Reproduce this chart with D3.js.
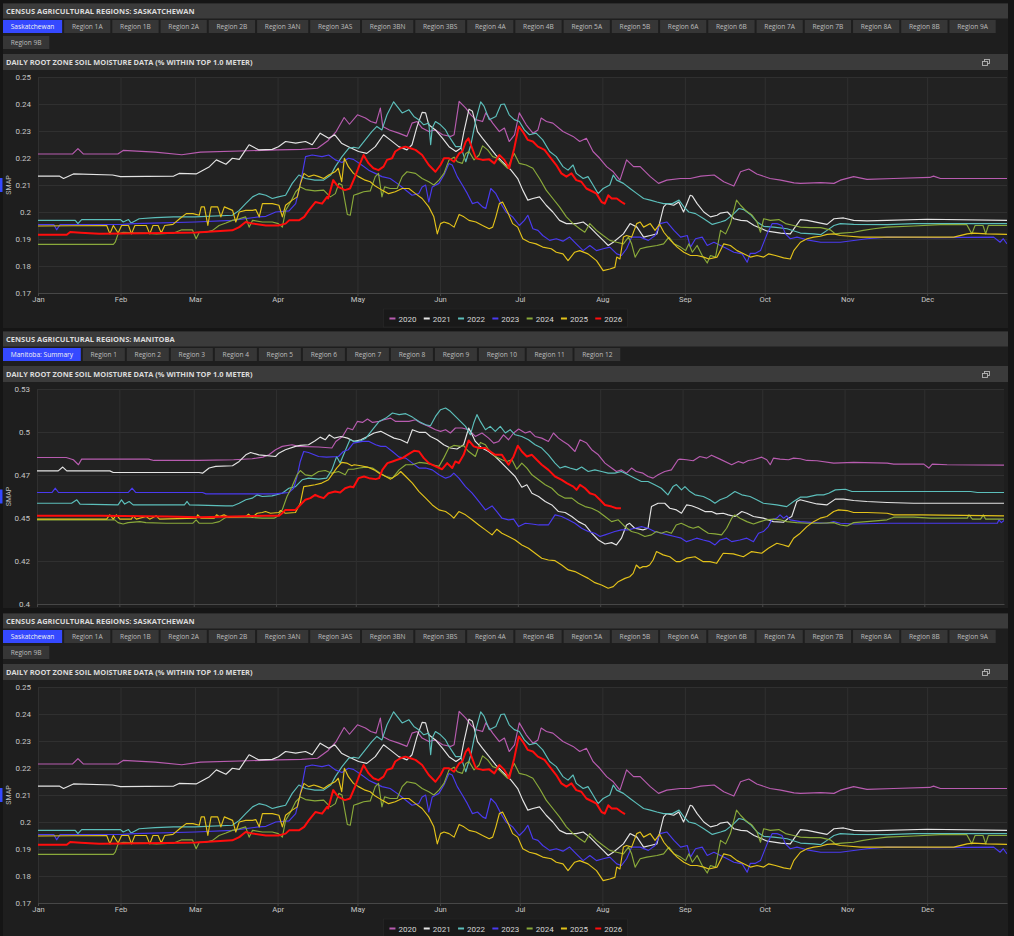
<!DOCTYPE html>
<html>
<head>
<meta charset="utf-8">
<script src="https://cdn.jsdelivr.net/npm/d3@7"></script>
<style>
  body { margin: 0; background: #151515; }
  svg { display: block; }
</style>
</head>
<body>
<svg id="page" width="1014" height="936"></svg>
<script>
// ---- data ----
const years = ["2020", "2021", "2022", "2023", "2024", "2025", "2026"];
const yearColors = ["#b85cb0", "#e4e4e4", "#5cbfbb", "#4a3af0", "#8aaa3a", "#e3c21a", "#ff0d0d"];

const skTabs = ["Saskatchewan", "Region 1A", "Region 1B", "Region 2A", "Region 2B", "Region 3AN", "Region 3AS",
  "Region 3BN", "Region 3BS", "Region 4A", "Region 4B", "Region 5A", "Region 5B", "Region 6A", "Region 6B",
  "Region 7A", "Region 7B", "Region 8A", "Region 8B", "Region 9A", "Region 9B"];
const mbTabs = ["Manitoba: Summary", "Region 1", "Region 2", "Region 3", "Region 4", "Region 5", "Region 6",
  "Region 7", "Region 8", "Region 9", "Region 10", "Region 11", "Region 12"];

const skTicks = [0.17, 0.18, 0.19, 0.2, 0.21, 0.22, 0.23, 0.24, 0.25];
const skTickLabels = ["0.17", "0.18", "0.19", "0.2", "0.21", "0.22", "0.23", "0.24", "0.25"];
const mbTicks = [0.4, 0.426, 0.452, 0.478, 0.504, 0.53];
const mbTickLabels = ["0.4", "0.42", "0.45", "0.47", "0.5", "0.53"];

// Saskatchewan, [day of year, SMAP]
const sk2020 = [[1,0.2215],[14,0.2215],[16,0.2235],[18,0.2215],[31,0.2215],[33,0.2228],[45,0.2222],[55,0.2212],[62,0.2222],[80,0.2227],[91,0.2230],[100,0.2232],[106,0.2236],[110,0.2265],[113,0.2298],[116,0.2350],[118,0.2325],[121,0.2360],[124,0.2348],[126,0.2335],[128,0.2329],[129.6,0.2385],[130.5,0.2317],[133,0.2304],[136.5,0.2292],[139.6,0.2280],[141.5,0.2329],[143.4,0.2335],[145.3,0.2311],[147.8,0.2298],[150.3,0.2304],[153,0.2286],[156,0.2280],[157.3,0.2286],[159.2,0.2410],[161.7,0.2385],[163.6,0.2360],[165.5,0.2342],[168,0.2335],[169.2,0.2367],[171.8,0.2329],[174.3,0.2298],[176.2,0.2311],[178,0.2261],[180,0.2286],[181.8,0.2367],[184.4,0.2323],[186.9,0.2292],[188.8,0.2304],[190,0.2348],[192,0.2335],[194.4,0.2329],[198.2,0.2298],[202,0.2280],[204.5,0.2261],[207,0.2273],[209.5,0.2224],[212,0.2199],[214.6,0.2168],[217.1,0.2149],[219.6,0.2118],[222.1,0.2193],[224.7,0.2168],[227.2,0.2168],[231,0.2131],[234.1,0.2106],[237.2,0.2118],[242.3,0.2124],[246,0.2124],[250,0.2133],[255,0.2137],[258.6,0.2112],[262.4,0.2096],[264.9,0.2149],[268,0.2159],[271,0.2141],[276,0.2124],[280,0.2118],[285,0.2108],[287.4,0.2106],[295,0.2109],[300,0.2106],[302.4,0.2118],[307.4,0.2131],[312.4,0.2121],[322.4,0.2124],[336,0.2128],[337.4,0.2133],[340,0.2124],[365,0.2124]];
const sk2021 = [[1,0.2133],[9,0.2133],[10.6,0.2124],[14.3,0.2141],[29,0.2137],[32,0.2131],[52,0.2133],[54,0.2143],[60.4,0.2141],[63,0.2155],[65.4,0.2168],[68,0.2193],[71.6,0.2177],[74,0.2199],[76.6,0.2195],[79,0.2230],[80.3,0.2249],[84,0.2230],[89,0.2232],[91.3,0.2242],[94,0.2261],[97.8,0.2255],[101.5,0.2261],[104,0.2249],[107,0.2292],[110.2,0.2273],[112.5,0.2286],[115,0.2255],[117.6,0.2242],[121.4,0.2224],[124.5,0.2217],[127.7,0.2242],[130.8,0.2286],[133.3,0.2267],[136.5,0.2242],[139.6,0.2230],[141.5,0.2249],[143.4,0.2317],[145.3,0.2369],[146.6,0.2367],[147.8,0.2323],[150.3,0.2304],[153,0.2273],[155.4,0.2242],[158,0.2224],[159.8,0.2236],[161,0.2298],[162.9,0.2381],[164.2,0.2373],[166.1,0.2298],[168,0.2273],[170.5,0.2242],[173,0.2211],[175.5,0.2186],[178.7,0.2155],[181.2,0.2124],[183.1,0.2081],[185,0.2044],[186.9,0.2050],[189.4,0.2056],[191.9,0.2025],[194.4,0.2000],[196.9,0.1969],[199.5,0.1957],[203.2,0.1957],[205.8,0.1963],[208.3,0.1944],[210.8,0.1919],[213.3,0.1895],[215.2,0.1876],[217.1,0.1888],[220.9,0.1919],[223.4,0.1957],[226,0.1944],[228.5,0.1907],[231,0.1913],[233.5,0.1919],[236,0.2019],[237.2,0.2031],[239.8,0.2025],[241.7,0.2037],[243.5,0.2000],[246,0.2062],[246.8,0.2059],[248.6,0.2031],[251.1,0.2000],[253.6,0.1982],[256.1,0.1988],[257.4,0.1996],[260,0.2000],[262.4,0.1975],[265,0.1969],[267.4,0.1967],[270,0.1950],[275,0.1929],[280,0.1922],[283.6,0.1919],[287.4,0.1972],[290,0.1969],[295,0.1959],[297.4,0.1954],[300,0.1975],[303.6,0.1978],[307.4,0.1969],[312.4,0.1967],[320,0.1969],[335,0.1973],[365,0.1969]];
const sk2022 = [[1,0.1969],[15,0.1969],[16,0.1957],[17.4,0.1972],[32,0.1972],[33,0.1963],[35,0.1972],[36,0.1959],[39,0.1975],[45,0.1979],[52,0.1982],[60,0.1982],[74,0.1988],[76.6,0.2006],[79,0.2031],[81.6,0.2056],[84,0.2068],[86.6,0.2062],[89,0.2050],[91.3,0.2056],[94,0.2062],[96.5,0.2106],[99,0.2137],[101.5,0.2124],[105,0.2118],[108.3,0.2118],[111,0.2137],[112.7,0.2168],[115.2,0.2205],[117.7,0.2236],[119.6,0.2240],[121.4,0.2236],[126.4,0.2298],[128.3,0.2317],[130.2,0.2304],[132.1,0.2360],[134.6,0.2408],[135.9,0.2391],[137.8,0.2367],[140.3,0.2379],[142.2,0.2354],[144,0.2342],[145.9,0.2323],[147.8,0.2329],[148.5,0.2249],[149.1,0.2311],[150.3,0.2335],[152.2,0.2323],[154.1,0.2304],[155.4,0.2280],[157.9,0.2242],[159.8,0.2242],[161.7,0.2186],[163.6,0.2249],[165.5,0.2342],[167.3,0.2408],[168.6,0.2391],[170.5,0.2342],[173,0.2354],[174.9,0.2398],[176.2,0.2400],[178,0.2360],[179.9,0.2342],[181.8,0.2335],[183.7,0.2304],[185.6,0.2286],[188.1,0.2292],[190.6,0.2267],[193.2,0.2224],[195.7,0.2205],[198.2,0.2168],[200.1,0.2155],[202,0.2174],[203.2,0.2143],[205.8,0.2124],[207.6,0.2131],[209.5,0.2100],[211.4,0.2068],[213.3,0.2087],[215.8,0.2100],[217.1,0.2137],[218.4,0.2118],[220.9,0.2106],[223.4,0.2087],[226,0.2068],[228.5,0.2050],[231,0.2044],[233.5,0.2037],[236,0.2031],[239.3,0.2031],[241.8,0.2044],[243.6,0.2019],[245.5,0.2000],[248,0.1994],[251.1,0.1975],[254.3,0.1954],[257.4,0.1963],[259.3,0.1969],[262.4,0.1994],[264.3,0.2013],[266.1,0.2009],[268.6,0.1991],[271.1,0.1963],[273.6,0.1947],[277.4,0.1944],[282.4,0.1938],[287.4,0.1922],[292.4,0.1919],[295,0.1916],[297.4,0.1932],[300,0.1950],[302.4,0.1957],[307.4,0.1954],[320,0.1953],[330,0.1957],[365,0.1957]];
const sk2023 = [[1,0.1953],[7,0.1953],[8,0.1934],[9.3,0.1953],[33,0.1954],[37,0.1957],[60,0.1963],[74,0.1969],[84,0.1982],[86.6,0.1984],[90.3,0.2000],[95.3,0.2004],[97.8,0.2031],[99.6,0.2106],[101.5,0.2205],[104,0.2211],[107.7,0.2205],[110.2,0.2211],[112.7,0.2193],[115.2,0.2183],[117.6,0.2199],[119.5,0.2195],[122.6,0.2174],[125.2,0.2155],[127.7,0.2143],[130.2,0.2131],[133.3,0.2124],[135.9,0.2106],[138.4,0.2087],[141.5,0.2062],[144,0.2068],[145.3,0.2093],[146.6,0.2100],[147.8,0.2037],[149.1,0.2093],[151.6,0.2106],[153.5,0.2137],[155.4,0.2180],[156.6,0.2174],[158.5,0.2131],[160.4,0.2100],[162.3,0.2068],[164.2,0.2031],[166.1,0.2037],[168,0.2019],[169.2,0.2013],[171.1,0.2087],[173,0.2068],[174.9,0.2031],[176.8,0.2000],[179.3,0.1982],[181.8,0.1950],[183.7,0.1969],[185,0.1988],[186.9,0.1938],[188.8,0.1932],[190.6,0.1913],[193.2,0.1895],[195.7,0.1901],[198.2,0.1892],[200.7,0.1907],[203.2,0.1882],[205.8,0.1857],[208.3,0.1876],[210.8,0.1857],[213.3,0.1864],[215.8,0.1870],[218.4,0.1845],[220.2,0.1839],[222.1,0.1864],[224,0.1907],[227.2,0.1907],[230.3,0.1895],[232.8,0.1913],[234.7,0.1957],[237.2,0.1963],[239.9,0.1932],[242.4,0.1907],[244.9,0.1913],[246.1,0.1870],[248,0.1901],[250.5,0.1907],[252.4,0.1876],[254.9,0.1888],[257.4,0.1876],[259.9,0.1864],[262.4,0.1851],[265.5,0.1845],[267.4,0.1814],[268.6,0.1847],[270.5,0.1847],[272.4,0.1857],[274.9,0.1919],[276.8,0.1957],[278.6,0.1957],[280.5,0.1950],[281.8,0.1919],[283.6,0.1901],[286.1,0.1907],[289.9,0.1897],[295,0.1888],[302.4,0.1888],[312.4,0.1901],[320,0.1907],[338.6,0.1905],[360,0.1907],[362.4,0.1888],[363.6,0.1901],[365,0.1882]];
const sk2024 = [[1,0.1880],[29.3,0.1880],[30,0.1888],[31.1,0.1919],[33,0.1925],[37,0.1923],[41,0.1922],[45.5,0.1919],[52,0.1922],[55,0.1934],[59,0.1934],[60.4,0.1901],[61.6,0.1925],[64,0.1925],[66.6,0.1932],[69,0.1950],[71.6,0.1959],[74,0.1969],[76.6,0.1975],[79,0.1982],[80.3,0.1944],[81.6,0.1969],[85.3,0.1963],[89,0.1963],[91.3,0.1957],[92.8,0.1944],[94,0.2006],[95.9,0.2037],[97.8,0.2075],[99.6,0.2093],[101.5,0.2083],[105,0.2078],[108.3,0.2081],[110.8,0.2056],[112.7,0.2068],[114,0.2106],[115.2,0.2100],[117.2,0.1991],[118.3,0.1988],[119.6,0.2062],[121.4,0.2068],[123.3,0.2075],[125.8,0.2078],[127.7,0.2131],[128.9,0.2143],[130.2,0.2056],[131.2,0.2093],[133.3,0.2087],[135.9,0.2087],[137.8,0.2131],[139.6,0.2149],[142.8,0.2143],[145.3,0.2124],[147.8,0.2112],[149.7,0.2100],[151.6,0.2118],[153.5,0.2143],[155.4,0.2193],[157.3,0.2203],[158.5,0.2186],[160.4,0.2180],[161.7,0.2217],[162.9,0.2224],[164.8,0.2193],[166.7,0.2211],[168,0.2245],[169.9,0.2230],[171.8,0.2205],[173.6,0.2199],[175.5,0.2180],[177.4,0.2162],[178.7,0.2193],[179.9,0.2217],[181.8,0.2180],[184.4,0.2174],[186.9,0.2162],[189.4,0.2124],[191.9,0.2081],[194.4,0.2050],[196.9,0.2019],[199.5,0.1982],[202,0.1957],[204.5,0.1938],[206.4,0.1925],[208.3,0.1957],[210.8,0.1932],[213.3,0.1913],[215.8,0.1895],[218.4,0.1888],[220.9,0.1882],[222.8,0.1907],[224,0.1882],[225.3,0.1833],[227.2,0.1864],[229.7,0.1870],[233.5,0.1876],[236,0.1882],[238,0.1907],[239.9,0.1882],[242.4,0.1870],[244.3,0.1857],[245.5,0.1882],[246.8,0.1851],[248.6,0.1876],[250.5,0.1839],[252.4,0.1811],[253.6,0.1839],[255.5,0.1833],[257.4,0.1932],[259.3,0.1919],[261.1,0.1957],[263.4,0.2044],[264.9,0.2025],[266.8,0.2006],[269.3,0.1988],[271.1,0.1963],[272.4,0.1925],[273.6,0.1975],[276.1,0.1969],[279.3,0.1972],[281.8,0.1957],[284.9,0.1950],[287.4,0.1944],[291.1,0.1942],[295,0.1942],[298.6,0.1934],[300.5,0.1919],[303,0.1922],[307.4,0.1925],[311,0.1932],[315,0.1938],[320,0.1944],[330,0.1948],[340,0.1953],[349.9,0.1953],[351.8,0.1919],[353,0.1950],[356,0.1950],[357,0.1919],[358,0.1950],[365,0.1950]];
const sk2025 = [[1,0.1948],[26.8,0.1950],[28,0.1919],[29.3,0.1950],[31.1,0.1922],[32.4,0.1950],[35,0.1950],[36.1,0.1919],[37.4,0.1950],[41.7,0.1950],[43,0.1919],[44.2,0.1950],[46.1,0.1950],[47.3,0.1922],[48.6,0.1950],[51.7,0.1954],[54.2,0.1975],[56.7,0.1994],[59.2,0.1994],[61.6,0.1988],[62.3,0.2019],[63.5,0.2019],[64.8,0.1950],[66,0.2019],[68.5,0.2019],[69.7,0.1982],[71,0.2019],[74.1,0.2006],[75.3,0.1963],[76.6,0.2000],[79,0.2006],[81.6,0.2006],[82.8,0.2009],[84.1,0.1982],[85.3,0.2031],[89,0.2031],[91.5,0.2025],[92.8,0.1982],[94,0.2025],[96.5,0.2044],[98.4,0.2056],[99.6,0.2106],[100.9,0.2143],[102.7,0.2131],[104.6,0.2137],[106.5,0.2131],[108.3,0.2124],[110.2,0.2137],[112.6,0.2149],[113.8,0.2162],[115.1,0.2112],[116.1,0.2199],[117.6,0.2168],[119.5,0.2143],[121.4,0.2131],[123.9,0.2118],[125.8,0.2112],[127.7,0.2096],[130.2,0.2081],[132.7,0.2068],[135.2,0.2075],[137.8,0.2087],[140.3,0.2087],[142.8,0.2068],[145.3,0.2050],[147.8,0.2019],[149.7,0.1982],[151,0.1919],[152.2,0.1957],[153.5,0.1963],[155.4,0.1957],[157.3,0.1944],[159.2,0.1991],[161,0.1982],[162.9,0.1969],[165.5,0.1963],[168,0.1950],[170.5,0.1938],[171.8,0.1944],[173,0.1982],[174.3,0.2031],[175.5,0.2037],[177.4,0.2000],[179.3,0.1957],[181.2,0.1944],[183.1,0.1901],[185.6,0.1888],[188.1,0.1882],[190.6,0.1870],[193.8,0.1864],[195.7,0.1851],[198.2,0.1845],[200.1,0.1820],[202.6,0.1851],[204.5,0.1857],[207.6,0.1845],[210.8,0.1820],[213.3,0.1783],[215.8,0.1789],[217.7,0.1795],[218.4,0.1833],[219.6,0.1826],[220.9,0.1907],[222.1,0.1913],[224,0.1907],[225.9,0.1957],[227.2,0.1963],[228.5,0.1944],[231,0.1957],[232.8,0.1932],[234.5,0.1955],[236.1,0.1925],[238.6,0.1895],[241.1,0.1870],[243.6,0.1851],[246.1,0.1839],[248.6,0.1839],[251.1,0.1833],[253,0.1826],[256.1,0.1833],[258.6,0.1882],[261.1,0.1876],[263.6,0.1857],[266.1,0.1845],[268.6,0.1833],[271.1,0.1839],[273.6,0.1833],[275.5,0.1845],[278,0.1839],[281.1,0.1830],[283.6,0.1826],[284.9,0.1857],[287.4,0.1888],[289.9,0.1901],[292.4,0.1907],[294.9,0.1910],[297.4,0.1917],[299.9,0.1919],[302.4,0.1913],[304.9,0.1911],[310,0.1907],[320,0.1907],[345,0.1907],[350,0.1919],[352.4,0.1922],[357.4,0.1919],[365,0.1917]];
const sk2026 = [[1,0.1916],[11.8,0.1916],[13.1,0.1926],[17,0.1923],[24,0.1919],[49,0.1922],[60.4,0.1924],[74,0.1932],[76.6,0.1944],[79,0.1963],[81.6,0.1957],[86.6,0.1950],[91.3,0.1950],[94,0.1957],[95.3,0.1969],[99,0.1969],[101,0.1982],[102.7,0.2006],[105.2,0.2037],[107.7,0.2031],[109.6,0.2056],[110,0.2050],[111.9,0.2118],[113.8,0.2093],[116.3,0.2081],[118.2,0.2087],[120.1,0.2131],[122,0.2180],[123.3,0.2211],[125.2,0.2180],[127,0.2162],[128.9,0.2155],[130.8,0.2168],[132.1,0.2193],[134,0.2199],[135.2,0.2224],[137.1,0.2236],[139,0.2242],[140.9,0.2236],[142.8,0.2230],[145.3,0.2211],[147.8,0.2174],[150.3,0.2149],[152.2,0.2174],[153.5,0.2199],[155.4,0.2199],[157.3,0.2186],[159.2,0.2217],[160.4,0.2224],[161.7,0.2261],[162.7,0.2273],[163.6,0.2249],[165.5,0.2199],[168,0.2193],[170.5,0.2195],[172.4,0.2180],[174.3,0.2211],[176.2,0.2193],[178,0.2162],[179.9,0.2236],[181.6,0.2317],[183.1,0.2298],[185,0.2267],[186.9,0.2261],[188.8,0.2242],[191.3,0.2230],[193.2,0.2205],[195.7,0.2174],[197.6,0.2143],[199.5,0.2131],[201.4,0.2143],[203.2,0.2118],[205.1,0.2112],[207,0.2087],[209.5,0.2075],[210.8,0.2068],[212.7,0.2037],[213.9,0.2031],[215.2,0.2062],[216.5,0.2050],[218.4,0.2050],[220.2,0.2037],[221.5,0.2029]];

// Manitoba, [day of year, SMAP]
const mb2020 = [[1,0.4886],[12,0.4886],[14.7,0.4872],[16.6,0.4842],[17.8,0.4876],[43,0.4876],[45,0.4868],[62,0.4868],[75,0.4872],[82,0.4878],[86,0.4888],[88.3,0.4902],[90.8,0.4933],[93.3,0.4953],[97,0.4963],[99.5,0.4953],[107,0.4949],[112,0.4943],[113.5,0.4983],[116,0.5013],[117.9,0.5064],[119.8,0.5054],[121.6,0.5104],[123.5,0.5098],[125.4,0.5118],[127.3,0.5098],[129.8,0.5104],[131.6,0.5114],[134.1,0.5124],[136,0.5104],[141,0.5104],[143.5,0.5114],[145.4,0.5094],[148.5,0.5074],[151,0.5054],[152.9,0.5044],[154.8,0.5054],[156.6,0.5034],[158.5,0.5064],[161,0.5064],[163.5,0.5054],[166,0.5013],[168.5,0.5034],[171,0.5003],[172.9,0.4973],[174.8,0.4983],[176.6,0.5023],[178.5,0.4993],[180.4,0.5034],[182.3,0.5058],[184.8,0.5034],[186.6,0.5044],[188.5,0.5013],[191,0.5003],[193.5,0.4983],[195.4,0.5034],[197.3,0.5003],[199.1,0.4983],[201,0.4963],[203.5,0.4922],[205.4,0.4993],[207.9,0.4973],[209.8,0.4933],[212.3,0.4902],[214.8,0.4852],[217.3,0.4822],[219.1,0.4801],[221,0.4811],[222.9,0.4791],[224.8,0.4822],[226.6,0.4801],[229.1,0.4791],[231,0.4771],[232.9,0.4761],[234.8,0.4781],[237.3,0.4801],[239.8,0.4811],[242.3,0.4872],[243,0.4876],[245.5,0.4872],[248,0.4866],[250.5,0.4892],[253.1,0.4882],[254.9,0.4900],[258.1,0.4876],[262.5,0.4842],[265,0.4862],[266.9,0.4852],[268.8,0.4868],[270.7,0.4872],[273.8,0.4888],[275.7,0.4872],[277,0.4842],[278.2,0.4882],[280.7,0.4876],[283.9,0.4872],[285.8,0.4882],[288.3,0.4878],[290.8,0.4868],[294.6,0.4866],[300.9,0.4852],[308.4,0.4856],[321,0.4852],[323.5,0.4846],[334.8,0.4846],[336.7,0.4822],[338,0.4846],[343.6,0.4842],[365,0.4840]];
const mb2021 = [[1,0.4805],[9,0.4805],[10.7,0.4828],[12.2,0.4805],[28.4,0.4805],[29.7,0.4795],[62,0.4795],[63.3,0.4791],[65.8,0.4822],[68.3,0.4832],[74.6,0.4836],[77.1,0.4862],[79.6,0.4902],[81.4,0.4916],[84.5,0.4902],[90.8,0.4892],[92,0.4912],[94.5,0.4933],[98.3,0.4953],[100.1,0.4959],[103.2,0.4963],[105.7,0.4987],[107.6,0.5009],[109.5,0.4993],[111,0.5023],[112.9,0.5003],[115.4,0.5013],[117.9,0.5003],[120.4,0.4983],[122.9,0.4993],[125.4,0.5013],[127.9,0.5034],[130.4,0.5044],[132.9,0.5023],[135.4,0.5003],[137.9,0.4993],[140.4,0.4973],[142.3,0.5054],[144.8,0.5038],[147.3,0.5038],[149.1,0.5013],[151.6,0.4993],[154.1,0.4963],[156.6,0.4943],[159.1,0.4937],[161.6,0.4963],[163.5,0.5064],[164.8,0.5023],[166,0.4983],[168.5,0.4943],[171,0.4922],[173.5,0.4892],[176,0.4852],[178.5,0.4811],[181,0.4771],[183.5,0.4706],[185.4,0.4721],[187.3,0.4670],[189.8,0.4650],[192.3,0.4620],[194.8,0.4599],[197.3,0.4559],[199.8,0.4553],[202.3,0.4529],[204.8,0.4498],[207.3,0.4478],[209.8,0.4428],[212.3,0.4387],[214.8,0.4363],[217.3,0.4371],[219.1,0.4357],[221,0.4398],[222.9,0.4478],[224.1,0.4488],[226,0.4458],[229.1,0.4448],[231,0.4458],[232.3,0.4589],[234.8,0.4609],[237.3,0.4609],[239.2,0.4579],[241.7,0.4569],[243.6,0.4549],[245.5,0.4599],[247.4,0.4594],[249.9,0.4579],[252.4,0.4559],[254.9,0.4559],[256.8,0.4545],[259.3,0.4549],[261.2,0.4539],[263.7,0.4529],[266.3,0.4559],[268.2,0.4549],[270.7,0.4529],[274.4,0.4519],[278.2,0.4498],[282,0.4494],[283.9,0.4519],[285.1,0.4529],[287,0.4620],[288.3,0.4630],[290.8,0.4620],[294.6,0.4605],[298.3,0.4599],[301.5,0.4634],[304.6,0.4634],[308.4,0.4626],[313.4,0.4620],[321,0.4614],[331,0.4609],[365,0.4609]];
const mb2022 = [[1,0.4609],[14,0.4609],[16,0.4630],[17.2,0.4604],[31.5,0.4599],[32.8,0.4630],[34,0.4604],[35.7,0.4620],[37.2,0.4599],[56.5,0.4599],[57.5,0.4620],[58.4,0.4599],[72,0.4593],[74.6,0.4593],[77.1,0.4609],[79.6,0.4630],[82,0.4640],[83.9,0.4660],[85.8,0.4650],[89.5,0.4654],[93.3,0.4670],[95.8,0.4700],[98.3,0.4710],[100.8,0.4751],[103.2,0.4761],[107,0.4755],[110,0.4761],[112,0.4811],[113.8,0.4892],[115.1,0.4852],[116.9,0.4922],[118.8,0.4993],[120.4,0.4983],[122.3,0.4983],[124.8,0.5003],[127.3,0.5054],[129.8,0.5104],[132.3,0.5124],[134.8,0.5155],[137.3,0.5145],[139.8,0.5151],[142.3,0.5130],[144.8,0.5104],[147.3,0.5084],[149.1,0.5078],[151,0.5134],[152.9,0.5175],[154.8,0.5185],[156.6,0.5165],[158.5,0.5134],[160.4,0.5104],[162.3,0.5074],[164.1,0.5023],[165.4,0.5094],[166.6,0.5145],[167.9,0.5104],[169.8,0.5054],[171.6,0.5074],[173.5,0.5044],[175.4,0.5074],[177.3,0.5034],[179.1,0.5054],[181,0.5023],[183.5,0.5013],[186,0.4993],[188.5,0.4963],[191,0.4943],[193.5,0.4902],[196,0.4852],[197.9,0.4822],[199.8,0.4832],[201.6,0.4822],[204.1,0.4811],[206,0.4828],[208.5,0.4801],[211,0.4811],[213.5,0.4801],[216,0.4791],[218.5,0.4791],[221,0.4801],[223.5,0.4781],[226,0.4761],[228.5,0.4741],[231,0.4741],[233.5,0.4721],[236,0.4700],[238.5,0.4660],[240.4,0.4710],[241.7,0.4722],[243.6,0.4690],[244.9,0.4710],[246.8,0.4680],[248.7,0.4660],[251.8,0.4650],[254.3,0.4630],[256.2,0.4609],[258.1,0.4630],[260.6,0.4646],[263.7,0.4680],[266.3,0.4660],[269.4,0.4650],[271.9,0.4630],[274.4,0.4609],[279.5,0.4599],[283.2,0.4589],[285.8,0.4620],[288.3,0.4646],[290.8,0.4646],[294.6,0.4660],[297.1,0.4660],[299,0.4670],[301.5,0.4690],[305.3,0.4694],[307.8,0.4680],[314.7,0.4680],[333.6,0.4680],[352.4,0.4680],[355,0.4674],[365,0.4674]];
const mb2023 = [[1,0.4674],[6.6,0.4674],[7.9,0.4700],[9.1,0.4674],[35.3,0.4674],[36.8,0.4700],[38.2,0.4674],[63.3,0.4674],[64.6,0.4666],[90.8,0.4666],[93.3,0.4670],[95.8,0.4674],[97.6,0.4700],[98.9,0.4771],[100.1,0.4862],[101.4,0.4922],[103.2,0.4916],[107,0.4892],[110,0.4888],[114.5,0.4892],[116.3,0.4922],[118.2,0.4933],[120.1,0.4973],[121.6,0.4977],[123.5,0.4983],[126,0.4983],[128.5,0.4963],[130.4,0.4953],[132.3,0.4953],[134.8,0.4922],[137.3,0.4888],[139.8,0.4882],[142.3,0.4852],[144.8,0.4822],[147.3,0.4822],[149.8,0.4811],[152.3,0.4781],[154.8,0.4761],[156.6,0.4771],[157.9,0.4791],[159.8,0.4761],[162.3,0.4710],[164.8,0.4670],[167.3,0.4620],[169.8,0.4569],[172.3,0.4593],[174.1,0.4559],[176,0.4519],[178.5,0.4509],[180.4,0.4513],[182.3,0.4468],[184.8,0.4488],[187.3,0.4484],[189.8,0.4478],[193.5,0.4478],[196,0.4539],[198.5,0.4529],[201,0.4509],[203.5,0.4488],[206,0.4458],[208.5,0.4438],[211,0.4428],[212.9,0.4408],[214.8,0.4418],[216.6,0.4428],[218.5,0.4438],[221,0.4448],[223.5,0.4448],[226,0.4458],[228.5,0.4468],[231,0.4458],[233.5,0.4438],[236,0.4428],[238.5,0.4418],[241,0.4408],[243.5,0.4398],[245.5,0.4377],[247.4,0.4387],[249.3,0.4398],[251.8,0.4387],[254.3,0.4377],[256.2,0.4357],[258.1,0.4387],[260.6,0.4398],[262.5,0.4377],[265.6,0.4387],[268.2,0.4398],[270.7,0.4377],[272.6,0.4428],[274.4,0.4438],[276.3,0.4468],[277.6,0.4509],[279.5,0.4519],[280.7,0.4539],[282,0.4519],[283.2,0.4533],[284.5,0.4509],[288.3,0.4498],[293.3,0.4492],[298.3,0.4488],[300.9,0.4498],[303.4,0.4488],[308.4,0.4484],[321,0.4488],[333.6,0.4488],[358.7,0.4488],[362.5,0.4488],[363.1,0.4509],[364,0.4492],[365,0.4505]];
const mb2024 = [[1,0.4509],[30.3,0.4509],[31.5,0.4492],[33.4,0.4484],[35.3,0.4492],[39.7,0.4498],[42,0.4492],[49.6,0.4488],[59.6,0.4488],[60.9,0.4509],[62.1,0.4488],[67,0.4488],[69.6,0.4498],[72,0.4523],[74.6,0.4525],[79.6,0.4525],[82,0.4523],[85.8,0.4519],[90.2,0.4519],[91.4,0.4529],[93.3,0.4569],[95.1,0.4650],[97,0.4710],[98.9,0.4781],[100.1,0.4807],[102,0.4781],[104.5,0.4775],[107,0.4801],[109.5,0.4807],[112,0.4791],[114.5,0.4801],[117,0.4781],[118.2,0.4815],[120.1,0.4815],[122.3,0.4822],[124.8,0.4828],[127.3,0.4822],[129.8,0.4795],[132.3,0.4771],[134.8,0.4761],[137.3,0.4811],[139.8,0.4842],[142.3,0.4842],[144.8,0.4856],[147.3,0.4852],[149.8,0.4842],[152.3,0.4832],[154.1,0.4882],[156,0.4943],[157.9,0.4959],[160.4,0.4953],[161.6,0.4957],[163.5,0.4922],[166,0.4892],[167.9,0.4977],[169.8,0.4963],[171,0.4933],[173.5,0.4892],[176,0.4872],[177.9,0.4862],[179.8,0.4872],[181.6,0.4815],[183.5,0.4852],[185.4,0.4822],[187.3,0.4781],[189.8,0.4751],[192.3,0.4721],[194.8,0.4700],[197.3,0.4660],[199.8,0.4640],[202.3,0.4640],[204.8,0.4609],[207.3,0.4589],[209.8,0.4579],[212.3,0.4559],[214.8,0.4529],[217.3,0.4498],[219.8,0.4509],[222.3,0.4468],[224.8,0.4438],[227.3,0.4428],[229.8,0.4408],[232.3,0.4418],[234.1,0.4438],[236,0.4428],[237.9,0.4438],[239.8,0.4428],[241.6,0.4478],[243.5,0.4488],[246.1,0.4468],[248,0.4458],[249.9,0.4468],[251.8,0.4448],[253.7,0.4428],[256.2,0.4424],[258.7,0.4418],[260.6,0.4458],[262.5,0.4519],[263.7,0.4539],[265.6,0.4519],[268.2,0.4498],[270.7,0.4484],[273.2,0.4498],[275.7,0.4509],[278.2,0.4513],[280.7,0.4509],[283.2,0.4498],[287,0.4492],[290.8,0.4488],[295.8,0.4488],[300.9,0.4492],[303.4,0.4478],[305.9,0.4472],[308.4,0.4492],[313.4,0.4498],[321,0.4509],[323.5,0.4525],[331,0.4525],[337.3,0.4519],[351.2,0.4519],[351.8,0.4539],[353.1,0.4513],[356.2,0.4513],[357.2,0.4539],[358.1,0.4513],[365,0.4513]];
const mb2025 = [[1,0.4513],[27.2,0.4513],[28.4,0.4539],[29.7,0.4513],[30.9,0.4539],[32.2,0.4513],[36.5,0.4513],[37.2,0.4533],[38.4,0.4513],[42.1,0.4529],[43.4,0.4513],[45.9,0.4533],[47.1,0.4513],[60.9,0.4519],[61.5,0.4539],[62.7,0.4519],[67.7,0.4519],[68.6,0.4539],[69.6,0.4529],[71.4,0.4539],[73.3,0.4525],[79.6,0.4529],[80.6,0.4543],[82,0.4525],[83.9,0.4549],[85.8,0.4553],[87,0.4559],[88.9,0.4549],[92,0.4553],[92.6,0.4565],[94.5,0.4549],[98.3,0.4553],[100.1,0.4609],[101.4,0.4710],[103.2,0.4714],[105.7,0.4721],[108.2,0.4731],[110.7,0.4751],[112,0.4781],[113.8,0.4822],[115.7,0.4856],[117.6,0.4852],[119.5,0.4836],[120.4,0.4842],[122.9,0.4836],[125.4,0.4828],[127.9,0.4811],[129.8,0.4791],[132.3,0.4771],[134.1,0.4755],[136.6,0.4781],[137.9,0.4801],[139.8,0.4771],[142.3,0.4731],[144.8,0.4680],[147.3,0.4640],[149.8,0.4599],[152.3,0.4569],[154.8,0.4559],[156.6,0.4539],[157.9,0.4519],[159.8,0.4559],[162.3,0.4539],[164.8,0.4509],[167.3,0.4478],[169.8,0.4448],[172.3,0.4418],[174.1,0.4452],[176,0.4428],[178.5,0.4408],[181,0.4387],[183.5,0.4357],[186,0.4337],[188.5,0.4307],[191,0.4277],[193.5,0.4266],[196,0.4262],[198.5,0.4236],[201,0.4206],[203.5,0.4196],[206,0.4175],[208.5,0.4155],[211,0.4129],[213.5,0.4115],[216,0.4095],[217.9,0.4105],[219.8,0.4135],[222.3,0.4155],[224.1,0.4165],[225.4,0.4185],[226.6,0.4236],[227.9,0.4216],[229.1,0.4226],[230.4,0.4226],[231.6,0.4236],[232.9,0.4266],[234.2,0.4317],[236.7,0.4297],[239.2,0.4286],[241.6,0.4256],[243,0.4256],[245.5,0.4277],[248.7,0.4286],[251.8,0.4256],[254.3,0.4256],[256.8,0.4246],[259.3,0.4307],[263.1,0.4303],[266.9,0.4286],[270,0.4317],[273.8,0.4307],[276.3,0.4337],[279.5,0.4367],[282,0.4357],[283.9,0.4347],[285.8,0.4398],[288.3,0.4428],[290.8,0.4468],[293.3,0.4498],[295.8,0.4519],[298.3,0.4529],[300.9,0.4559],[302.7,0.4569],[305.9,0.4565],[308.4,0.4553],[313.4,0.4553],[321,0.4549],[323.5,0.4539],[333.6,0.4539],[365,0.4533]];
const mb2026 = [[1,0.4533],[25,0.4533],[50,0.4529],[62,0.4525],[75,0.4529],[87,0.4533],[92,0.4533],[93.3,0.4549],[94.5,0.4569],[98.3,0.4569],[100.1,0.4599],[102,0.4630],[103.9,0.4640],[105.7,0.4660],[107,0.4650],[108.9,0.4640],[110.7,0.4670],[113.2,0.4680],[115.1,0.4674],[117,0.4700],[118.8,0.4710],[120.1,0.4706],[122,0.4761],[124.1,0.4771],[126,0.4761],[128.5,0.4755],[129.8,0.4761],[131,0.4811],[132.9,0.4852],[134.8,0.4862],[136.6,0.4872],[138.5,0.4882],[141,0.4908],[142.9,0.4926],[144.8,0.4922],[146.6,0.4882],[148.5,0.4852],[151,0.4832],[153.5,0.4815],[155.4,0.4852],[157.3,0.4822],[158.5,0.4862],[159.8,0.4852],[161.6,0.4902],[163.5,0.4989],[165.4,0.4953],[167.3,0.4943],[169.8,0.4943],[171.6,0.4922],[173.5,0.4902],[176,0.4902],[178.5,0.4842],[180.4,0.4892],[182,0.4957],[183.5,0.4922],[185.4,0.4892],[187.3,0.4902],[189.1,0.4872],[191,0.4842],[193.5,0.4811],[196,0.4771],[198.5,0.4751],[200.4,0.4731],[202.9,0.4710],[204.1,0.4690],[205.4,0.4721],[207.3,0.4700],[209.1,0.4670],[211,0.4660],[212.9,0.4630],[214.8,0.4599],[217.3,0.4589],[219.1,0.4579],[220.8,0.4579]];

const skSeries = [sk2020, sk2021, sk2022, sk2023, sk2024, sk2025, sk2026];
const mbSeries = [mb2020, mb2021, mb2022, mb2023, mb2024, mb2025, mb2026];

// ---- drawing ----
const svg = d3.select("#page");
const font = "'Open Sans', sans-serif";
const axisFont = "Roboto, sans-serif";
const activeBlue = "#3549ff";

const base = new Date(2026, 0, 1).getTime();
const dayDate = d => new Date(base + (d - 1) * 864e5);

svg.append("rect").attr("width", 1014).attr("height", 936).attr("fill", "#151515");

let clipId = 0;

function drawPanel(top, cfg) {
  const id = "clip" + (clipId++);
  svg.append("clipPath").attr("id", id)
    .append("rect").attr("x", 0).attr("y", top).attr("width", 1014).attr("height", cfg.clipH);
  const g = svg.append("g").attr("clip-path", `url(#${id})`);

  const left = 3, right = 1008;

  // panel body
  g.append("rect").attr("x", left).attr("y", top).attr("width", right - left).attr("height", 400)
    .attr("fill", "#1e1e1e");

  // region header
  g.append("rect").attr("x", left).attr("y", top + 0.5).attr("width", right - left).attr("height", 15)
    .attr("fill", "#3b3b3b");
  g.append("text").attr("x", left + 3).attr("y", top + 11)
    .attr("font-family", font).attr("font-weight", 700).attr("font-size", 7.5)
    .attr("fill", "#dcdcdc").text(cfg.title);

  // tabs, wrapping to the panel width
  const tabG = g.append("g");
  let tx = left, row = 0;
  cfg.tabs.forEach((name, i) => {
    const t = tabG.append("g");
    const r = t.append("rect").attr("height", 13).attr("fill", i === 0 ? activeBlue : "#363636");
    const label = t.append("text").attr("font-family", font).attr("font-size", 6.6)
      .attr("fill", i === 0 ? "#f2f2f2" : "#bdbdbd").attr("text-anchor", "middle").text(name);
    const w = label.node().getComputedTextLength() + 15.5;
    if (tx + w > right - 2) { tx = left; row++; }
    const ty = top + 17 + row * 16;
    r.attr("x", tx).attr("y", ty).attr("width", w);
    label.attr("x", tx + w / 2).attr("y", ty + 9);
    tx += w + 2;
  });
  const rows = row + 1;

  // chart header
  const hdrY = top + 20 + (rows - 1) * 16 + 16;
  g.append("rect").attr("x", left).attr("y", hdrY - 1).attr("width", right - left).attr("height", 16)
    .attr("fill", "#3b3b3b");
  g.append("text").attr("x", left + 3).attr("y", hdrY + 10)
    .attr("font-family", font).attr("font-weight", 700).attr("font-size", 7.4)
    .attr("fill", "#dcdcdc").text("DAILY ROOT ZONE SOIL MOISTURE DATA (% WITHIN TOP 1.0 METER)");
  // restore icon
  const ic = g.append("g").attr("fill", "none").attr("stroke", "#b5b5b5").attr("stroke-width", 0.9);
  ic.append("rect").attr("x", 984.5).attr("y", hdrY + 4.5).attr("width", 5).attr("height", 4);
  ic.append("rect").attr("x", 982.5).attr("y", hdrY + 6.5).attr("width", 5).attr("height", 4)
    .attr("fill", "#3b3b3b");

  // plot
  const plotTop = hdrY + 22;
  const plotBottom = plotTop + cfg.plotH;
  const x0 = cfg.x0, x1 = cfg.x1;

  const x = d3.scaleTime().domain([dayDate(1), dayDate(365)]).range([x0, x1]);
  const y = d3.scaleLinear().domain(cfg.yDomain).range([plotBottom, plotTop]);

  g.append("rect").attr("x", x0).attr("y", plotTop).attr("width", x1 - x0).attr("height", cfg.plotH)
    .attr("fill", "#222222");

  // y axis + horizontal grid
  const ya = g.append("g").attr("transform", `translate(${x0},0)`)
    .call(d3.axisLeft(y).tickValues(cfg.ticks).tickFormat((d, i) => cfg.tickLabels[i])
      .tickSize(-(x1 - x0)).tickPadding(7));
  ya.select(".domain").remove();
  ya.selectAll("line").attr("stroke", "#303030");
  ya.selectAll("text").attr("font-family", axisFont).attr("font-size", 8).attr("fill", "#c6c6c6");

  // x axis + vertical grid
  const xa = g.append("g").attr("transform", `translate(0,${plotBottom})`)
    .call(d3.axisBottom(x).ticks(d3.timeMonth.every(1)).tickFormat(d3.timeFormat("%b"))
      .tickSize(-cfg.plotH).tickSizeOuter(0).tickPadding(4));
  xa.select(".domain").attr("stroke", "#474747");
  xa.selectAll("line").attr("stroke", "#303030");
  if (cfg.footer) {
    xa.selectAll("text").attr("font-family", axisFont).attr("font-size", 7.6).attr("fill", "#c6c6c6");
  } else {
    xa.selectAll("text").remove();
  }
  const xt = g.append("g").attr("transform", `translate(0,${plotBottom})`)
    .call(d3.axisBottom(x).ticks(d3.timeMonth.every(1)).tickFormat("").tickSize(3).tickSizeOuter(0));
  xt.select(".domain").remove();
  xt.selectAll("text").remove();
  xt.selectAll("line").attr("stroke", "#474747");

  // y title
  const midY = (plotTop + plotBottom) / 2;
  g.append("text").attr("transform", `translate(11,${midY}) rotate(-90)`)
    .attr("text-anchor", "middle").attr("font-family", axisFont).attr("font-size", 7)
    .attr("fill", "#bdbdbd").text("SMAP");
  svg.append("rect").attr("x", 0).attr("y", midY - 7).attr("width", 2.5).attr("height", 14)
    .attr("fill", activeBlue);

  // series
  const line = d3.line().x(d => x(dayDate(d[0]))).y(d => y(d[1]));
  const plotClip = "pclip" + (clipId++);
  svg.append("clipPath").attr("id", plotClip)
    .append("rect").attr("x", x0).attr("y", plotTop - 2).attr("width", x1 - x0).attr("height", cfg.plotH + 4);
  const sg = g.append("g").attr("clip-path", `url(#${plotClip})`);
  cfg.series.forEach((s, i) => {
    sg.append("path").datum(s).attr("d", line).attr("fill", "none")
      .attr("stroke", yearColors[i]).attr("stroke-width", i === 6 ? 2 : 1.15)
      .attr("stroke-linejoin", "round");
  });

  if (!cfg.footer) return;

  // legend
  const step = 34.3;
  const cx = (left + right) / 2;
  const lx = cx - step * years.length / 2;
  const ly = plotBottom + 16;
  g.append("rect").attr("x", lx - 2).attr("y", ly).attr("width", step * years.length + 4).attr("height", 18)
    .attr("fill", "#191919").attr("stroke", "#2a2a2a").attr("stroke-width", 0.6);
  years.forEach((yr, i) => {
    const ix = lx + i * step;
    g.append("line").attr("x1", ix + 4).attr("x2", ix + 10).attr("y1", ly + 9.5).attr("y2", ly + 9.5)
      .attr("stroke", yearColors[i]).attr("stroke-width", 2);
    g.append("text").attr("x", ix + 13).attr("y", ly + 12.5)
      .attr("font-family", axisFont).attr("font-size", 8).attr("fill", "#d6d6d6").text(yr);
  });
}

drawPanel(3, {
  title: "CENSUS AGRICULTURAL REGIONS: SASKATCHEWAN", tabs: skTabs, clipH: 325, footer: true,
  plotH: 216, x0: 38, x1: 1007, yDomain: [0.17, 0.25], ticks: skTicks, tickLabels: skTickLabels,
  series: skSeries
});
// the Manitoba panel is cut off by the next panel, so no month labels or legend show
drawPanel(331, {
  title: "CENSUS AGRICULTURAL REGIONS: MANITOBA", tabs: mbTabs, clipH: 277, footer: false,
  plotH: 215, x0: 37, x1: 1004, yDomain: [0.4, 0.53], ticks: mbTicks, tickLabels: mbTickLabels,
  series: mbSeries
});
drawPanel(613, {
  title: "CENSUS AGRICULTURAL REGIONS: SASKATCHEWAN", tabs: skTabs, clipH: 400, footer: true,
  plotH: 216, x0: 38, x1: 1007, yDomain: [0.17, 0.25], ticks: skTicks, tickLabels: skTickLabels,
  series: skSeries
});
</script>
</body>
</html>
